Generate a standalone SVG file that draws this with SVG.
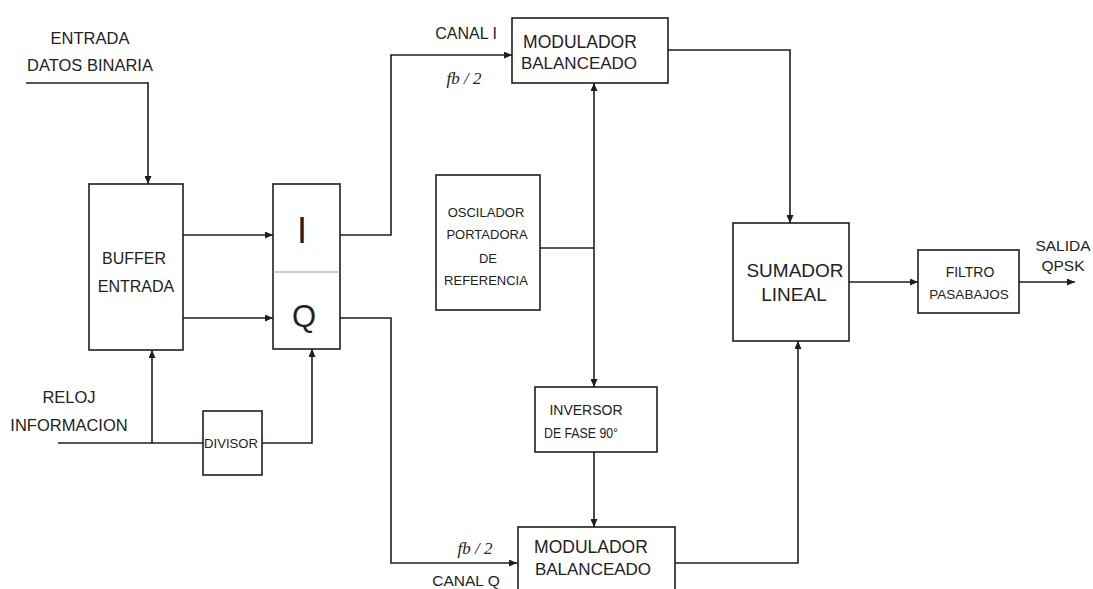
<svg xmlns="http://www.w3.org/2000/svg" width="1093" height="589" viewBox="0 0 1093 589">
<defs>
<style>
.box{fill:#fff;stroke:#1e1e1e;stroke-width:1.6}
.ln{fill:none;stroke:#1e1e1e;stroke-width:1.6}
.t{font-family:"Liberation Sans",Arial,sans-serif;fill:#222;text-anchor:middle;dominant-baseline:central}
.fb{font-family:"Liberation Serif","Times New Roman",serif;font-style:italic;fill:#222;font-size:17px;text-anchor:middle;dominant-baseline:central}
</style>
<marker id="ah" markerUnits="userSpaceOnUse" markerWidth="8" markerHeight="7" refX="8" refY="3.5" orient="auto">
<path d="M0,0 L8,3.5 L0,7 z" fill="#1e1e1e"/>
</marker>
</defs>
<rect width="1093" height="589" fill="#fff"/>

<g id="connectors">
<path class="ln" d="M26,83 H148 V184" marker-end="url(#ah)"/>
<path class="ln" d="M183,235 H273" marker-end="url(#ah)"/>
<path class="ln" d="M183,318 H273" marker-end="url(#ah)"/>
<path class="ln" d="M58,443 H203"/>
<path class="ln" d="M152,443 V350" marker-end="url(#ah)"/>
<path class="ln" d="M262,443 H312 V349" marker-end="url(#ah)"/>
<path class="ln" d="M340,235 H391 V55 H512" marker-end="url(#ah)"/>
<path class="ln" d="M340,318 H391 V563 H517" marker-end="url(#ah)"/>
<path class="ln" d="M540,248 H594"/>
<path class="ln" d="M594,248 V83" marker-end="url(#ah)"/>
<path class="ln" d="M594,248 V387" marker-end="url(#ah)"/>
<path class="ln" d="M594,452 V527" marker-end="url(#ah)"/>
<path class="ln" d="M668,50 H790 V223" marker-end="url(#ah)"/>
<path class="ln" d="M675,563 H798 V341" marker-end="url(#ah)"/>
<path class="ln" d="M849,282 H918" marker-end="url(#ah)"/>
<path class="ln" d="M1019,282 H1075" marker-end="url(#ah)"/>
</g>

<g id="labels">
<text class="t" x="90" y="38" font-size="16.5">ENTRADA</text>
<text class="t" x="90" y="65" font-size="16.5">DATOS BINARIA</text>
<text class="t" x="69" y="397" font-size="16.5">RELOJ</text>
<text class="t" x="69" y="425" font-size="16.5">INFORMACION</text>
<text class="t" x="466" y="33" font-size="16">CANAL I</text>
<text class="fb" x="464" y="78">fb / 2</text>
<text class="fb" x="475" y="548">fb / 2</text>
<text class="t" x="466" y="580" font-size="15.5">CANAL Q</text>
<text class="t" x="1063" y="245" font-size="15.5">SALIDA</text>
<text class="t" x="1063" y="265" font-size="15.5">QPSK</text>
</g>

<g id="buffer">
<rect class="box" x="89" y="184" width="94" height="166"/>
<text class="t" x="134" y="258" font-size="16">BUFFER</text>
<text class="t" x="136" y="286" font-size="16">ENTRADA</text>
</g>

<g id="iq">
<rect class="box" x="273" y="184" width="67" height="165"/>
<line x1="273" y1="272" x2="340" y2="272" stroke="#999" stroke-width="1"/>
<text class="t" x="302" y="230" font-size="36">I</text>
<text class="t" x="304" y="316" font-size="31">Q</text>
</g>

<g id="divisor">
<rect class="box" x="203" y="411" width="59" height="64"/>
<text class="t" x="231" y="443" font-size="13" textLength="54" lengthAdjust="spacingAndGlyphs">DIVISOR</text>
</g>

<g id="modulador-i">
<rect class="box" x="512" y="18" width="156" height="65"/>
<text class="t" x="580" y="42" font-size="17.5">MODULADOR</text>
<text class="t" x="579" y="63" font-size="17">BALANCEADO</text>
</g>

<g id="oscilador">
<rect class="box" x="436" y="175" width="104" height="135"/>
<text class="t" x="486" y="212" font-size="13">OSCILADOR</text>
<text class="t" x="487" y="234" font-size="13">PORTADORA</text>
<text class="t" x="488" y="258" font-size="13">DE</text>
<text class="t" x="486" y="280" font-size="13">REFERENCIA</text>
</g>

<g id="inversor">
<rect class="box" x="535" y="387" width="122" height="65"/>
<text class="t" x="586" y="410" font-size="14">INVERSOR</text>
<text class="t" x="581" y="433" font-size="14" textLength="74" lengthAdjust="spacingAndGlyphs">DE FASE 90°</text>
</g>

<g id="modulador-q">
<rect class="box" x="518" y="527" width="157" height="75"/>
<text class="t" x="591" y="547" font-size="17.5">MODULADOR</text>
<text class="t" x="593" y="569" font-size="17">BALANCEADO</text>
</g>

<g id="sumador">
<rect class="box" x="733" y="223" width="116" height="118"/>
<text class="t" x="795" y="270" font-size="19">SUMADOR</text>
<text class="t" x="794" y="294" font-size="19">LINEAL</text>
</g>

<g id="filtro">
<rect class="box" x="918" y="250" width="101" height="63"/>
<text class="t" x="970" y="272" font-size="14">FILTRO</text>
<text class="t" x="969" y="294" font-size="13.5">PASABAJOS</text>
</g>
</svg>
